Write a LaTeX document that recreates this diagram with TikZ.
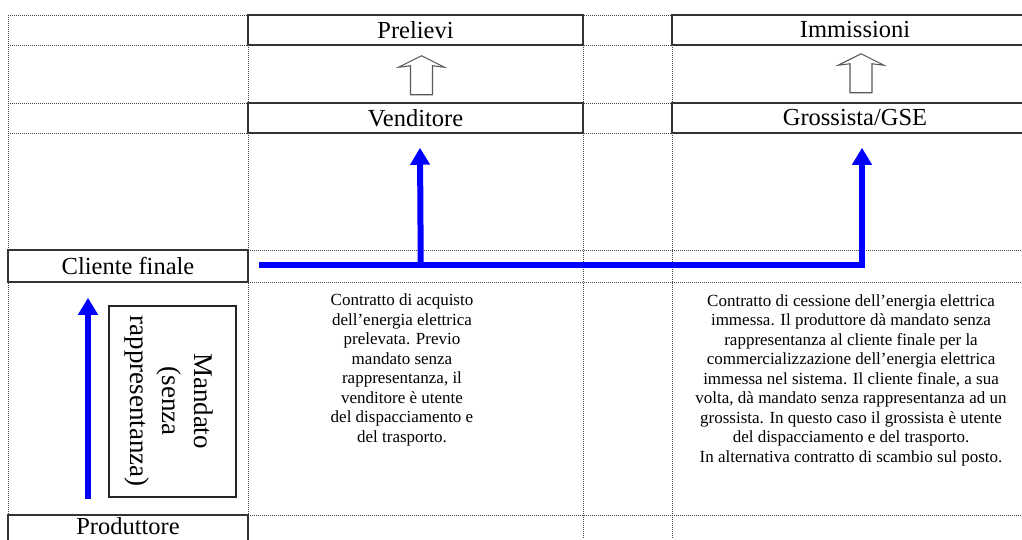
\documentclass[tikz,border=0pt]{standalone}
\usepackage{fontspec}
\setmainfont{Liberation Serif}
\usetikzlibrary{arrows.meta,calc}
\begin{document}
\begin{tikzpicture}[x=1pt,y=-1pt,
  gridline/.style={draw=black!75,line width=1pt,dash pattern=on 1pt off 1pt},
  boxline/.style={draw=black!80,line width=1.5pt},
  hbox/.style={boxline,fill=white,inner sep=0pt,font=\fontsize{24.5}{28}\selectfont},
  hollow/.style={draw=black!65,line width=1.1pt,fill=white,line join=miter},
  bline/.style={draw=blue,line width=6pt},
  barrow/.style={bline,-{Triangle[width=19pt,length=17pt]}},
  note/.style={align=center,inner sep=0pt,font=\fontsize{17}{19.5}\selectfont},
]
\useasboundingbox (0,0) rectangle (1022,539);
% dotted grid
\foreach \yy in {15,45,103,133,250,282,515} \draw[gridline] (8,\yy) -- (1022,\yy);
\foreach \xx in {8,248,583,672} \draw[gridline] (\xx,15) -- (\xx,539);
% boxes
\node[hbox,minimum width=335pt,minimum height=30pt] (prel) at (415.5,30) {Prelievi};
\node[hbox,minimum width=335pt,minimum height=30pt] (vend) at (415.5,118) {Venditore};
\node[hbox,minimum width=366pt,minimum height=30pt] (imm) at (855,30) {Immissioni};
\node[hbox,minimum width=366pt,minimum height=30pt] (gro) at (855,118) {Grossista/GSE};
\node[hbox,minimum width=240pt,minimum height=32pt] (cli) at (128,266) {Cliente finale};
\draw[boxline] (8,541) |- (248,515) -- (248,541);
\node[inner sep=0pt,font=\fontsize{24.5}{28}\selectfont] (prod) at (128,526) {Produttore};
% hollow arrows
\coordinate (ha1) at ($(prel.south)+(6,30)$);
\coordinate (ha2) at ($(imm.south)+(6,28)$);
\foreach \c in {ha1,ha2}
  \draw[hollow] ($(\c)+(-11,19)$) -- ++(0,-29) -- ++(-12,1.5) -- ++(23,-11.5)
     -- ++(23,11.5) -- ++(-12,-1.5) -- ++(0,29) -- cycle;
% blue connectors
\draw[barrow] ($(cli.east)+(10,-1)$) -| ($(gro.south)+(7,14)$);
\draw[barrow] ($(cli.east)+(172,-1)$) -- ($(vend.south)+(4.5,14)$);
\draw[barrow] ($(cli.south)+(-40,216)$) -- ($(cli.south)+(-40,15)$);
% mandato
\node[draw=black!85,line width=1.1pt,minimum width=127pt,minimum height=191pt,inner sep=0pt] (mand) at (172.5,401.5) {};
\node[rotate=-90,align=center,font=\fontsize{27}{32}\selectfont,inner sep=0pt] (mandtxt) at (169,401) {Mandato\\(senza\\rappresentanza)};
% notes
\node[note] (t1) at (402,370) {Contratto di acquisto\\dell’energia elettrica\\prelevata. Previo\\mandato senza\\rappresentanza, il\\venditore è utente\\del dispacciamento e\\del trasporto.};
\node[note] (t2) at (851,380) {Contratto di cessione dell’energia elettrica\\immessa. Il produttore dà mandato senza\\rappresentanza al cliente finale per la\\commercializzazione dell’energia elettrica\\immessa nel sistema. Il cliente finale, a sua\\volta, dà mandato senza rappresentanza ad un\\grossista. In questo caso il grossista è utente\\del dispacciamento e del trasporto.\\In alternativa contratto di scambio sul posto.};
\end{tikzpicture}
\end{document}
